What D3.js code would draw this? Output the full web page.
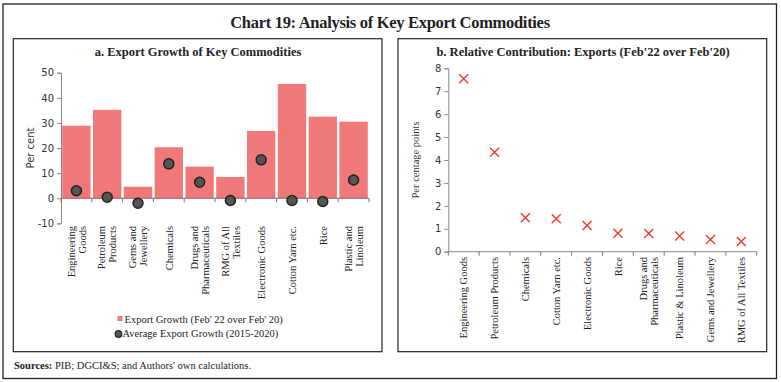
<!DOCTYPE html>
<html><head><meta charset="utf-8">
<script src="https://cdn.jsdelivr.net/npm/d3@7"></script>
<style>body{margin:0;background:#fff}svg{display:block}</style>
</head><body>
<svg id="c" width="781" height="382"></svg>
<script>
// ---- data ----
const catsA = ["Engineering\nGoods","Petroleum\nProducts","Gems and\nJewellery","Chemicals","Drugs and\nPharmaceuticals","RMG of All\nTextiles","Electronic Goods","Cotton Yarn etc.","Rice","Plastic and\nLinoleum"];
const growthFeb = [28.9, 35.2, 4.6, 20.3, 12.6, 8.5, 26.8, 45.5, 32.5, 30.5];
const avgGrowth = [3.0, 0.4, -2.0, 13.7, 6.4, -0.9, 15.3, -0.9, -1.3, 7.3];
const ticksA = [-10, 0, 10, 20, 30, 40, 50];

const catsB = ["Engineering Goods","Petroleum Products","Chemicals","Cotton Yarn etc.","Electronic Goods","Rice","Drugs and\nPharmaceuticals","Plastic & Linoleum","Gems and Jewellery","RMG of All Textiles"];
const contrib = [7.54, 4.34, 1.48, 1.44, 1.14, 0.80, 0.79, 0.68, 0.53, 0.45];
const ticksB = [0, 1, 2, 3, 4, 5, 6, 7, 8];

const svg = d3.select("#c");
const serif = "'Liberation Serif', serif";
const sans = "'DejaVu Sans', sans-serif";

// frames
svg.append("rect").attr("x",3).attr("y",4).attr("width",773.5).attr("height",374.5)
  .attr("fill","none").attr("stroke","#222").attr("stroke-width",1.3);
svg.append("text").attr("x",390).attr("y",28).attr("text-anchor","middle")
  .attr("font-family",serif).attr("font-weight","bold").attr("font-size",16.5).attr("fill","#222")
  .attr("letter-spacing",-0.3)
  .text("Chart 19: Analysis of Key Export Commodities");
svg.append("rect").attr("x",13.3).attr("y",38.7).attr("width",368.7).attr("height",313)
  .attr("fill","none").attr("stroke","#222").attr("stroke-width",1.2);
svg.append("rect").attr("x",398).attr("y",38.7).attr("width",368.7).attr("height",313)
  .attr("fill","none").attr("stroke","#222").attr("stroke-width",1.2);
svg.append("text").attr("x",198).attr("y",56).attr("text-anchor","middle")
  .attr("font-family",serif).attr("font-weight","bold").attr("font-size",12.5).attr("fill","#222")
  .text("a. Export Growth of Key Commodities");
svg.append("text").attr("x",583).attr("y",56).attr("text-anchor","middle")
  .attr("font-family",serif).attr("font-weight","bold").attr("font-size",12.5).attr("fill","#222")
  .text("b. Relative Contribution: Exports (Feb'22 over Feb'20)");

const src = svg.append("text").attr("x",14).attr("y",369).attr("font-family",serif).attr("font-size",10.5).attr("fill","#222");
src.append("tspan").attr("font-weight","bold").text("Sources:");
src.append("tspan").text(" PIB; DGCI&S; and Authors' own calculations.");

function rotLabels(g, cats, x, ytop) {
  cats.forEach((c, i) => {
    const lines = c.split("\n");
    const cx = x(c) + x.bandwidth() / 2;
    const t = g.append("text").attr("transform", `translate(${cx},${ytop}) rotate(-90)`)
      .attr("text-anchor","end").attr("font-family",serif).attr("font-size",10.5).attr("fill","#222");
    lines.forEach((l, j) => {
      t.append("tspan").attr("x",0).attr("y", (j - (lines.length - 1) / 2) * 11 + 3.7).text(l);
    });
  });
}
function boundaryTicks(g, x, cats, y0, len) {
  const xs = cats.map(c => x(c)).concat([x.range()[1]]);
  g.selectAll(null).data(xs).enter().append("line")
    .attr("x1", d => d).attr("x2", d => d).attr("y1", y0).attr("y2", y0 + len)
    .attr("stroke","#777").attr("stroke-width",1);
}
function styleAxis(ax) {
  ax.select(".domain").attr("stroke","#888");
  ax.selectAll(".tick line").attr("stroke","#888");
  ax.selectAll(".tick text").attr("font-family",sans).attr("font-size",10).attr("fill","#333");
}
const fmt = d => String(d);

// ---- panel a ----
{
  const g = svg.append("g");
  const x = d3.scaleBand().domain(catsA).range([61, 369]).paddingInner(0.08).paddingOuter(0.04);
  const y = d3.scaleLinear().domain([-10, 50]).range([223.4, 72.7]);
  g.selectAll(".bar").data(growthFeb).enter().append("rect")
    .attr("x", (d, i) => x(catsA[i])).attr("width", x.bandwidth())
    .attr("y", d => y(Math.max(0, d))).attr("height", d => Math.abs(y(d) - y(0)))
    .attr("fill", "#F07878");
  const ax = g.append("g").attr("transform","translate(61,0)")
    .call(d3.axisLeft(y).tickValues(ticksA).tickFormat(fmt).tickSize(4).tickPadding(3));
  styleAxis(ax);
  const xs = d3.scaleBand().domain(catsA).range([61, 369]);
  g.append("line").attr("x1",61).attr("x2",369).attr("y1",y(0)).attr("y2",y(0)).attr("stroke","#8a6a6a").attr("stroke-width",1);
  boundaryTicks(g, xs, catsA, y(0), 4);
  g.selectAll(".dot").data(avgGrowth).enter().append("circle")
    .attr("cx", (d, i) => xs(catsA[i]) + xs.bandwidth() / 2).attr("cy", d => y(d)).attr("r", 5)
    .attr("fill","#555").attr("stroke","#222").attr("stroke-width",1.5);
  rotLabels(g, catsA, xs, 226);
  g.append("text").attr("transform","translate(34,148) rotate(-90)").attr("text-anchor","middle")
    .attr("font-family",sans).attr("font-size",10).attr("fill","#333").text("Per cent");
  // legend
  g.append("rect").attr("x",117.5).attr("y",316).attr("width",5).attr("height",5).attr("fill","#F07878");
  g.append("text").attr("x",124.5).attr("y",322.5).attr("font-family",serif).attr("font-size",10.5).attr("fill","#222")
    .text("Export Growth (Feb' 22 over Feb' 20)");
  g.append("circle").attr("cx",118.5).attr("cy",334).attr("r",3.3).attr("fill","#555").attr("stroke","#222").attr("stroke-width",1.2);
  g.append("text").attr("x",122.5).attr("y",337).attr("font-family",serif).attr("font-size",10.5).attr("fill","#222")
    .text("Average Export Growth (2015-2020)");
}

// ---- panel b ----
{
  const g = svg.append("g");
  const x = d3.scaleBand().domain(catsB).range([448.3, 756.7]);
  const y = d3.scaleLinear().domain([0, 8]).range([251.7, 68.3]);
  const ax = g.append("g").attr("transform","translate(448.3,0)")
    .call(d3.axisLeft(y).tickValues(ticksB).tickFormat(fmt).tickSize(4).tickPadding(3));
  styleAxis(ax);
  g.append("line").attr("x1",448.3).attr("x2",756.7).attr("y1",y(0)).attr("y2",y(0)).attr("stroke","#888");
  boundaryTicks(g, x, catsB, y(0), 4);
  const s = 4.5;
  const m = g.selectAll(".m").data(contrib).enter().append("g")
    .attr("transform", (d, i) => `translate(${x(catsB[i]) + x.bandwidth() / 2},${y(d)})`);
  m.append("path").attr("d", `M${-s},${-s}L${s},${s}M${-s},${s}L${s},${-s}`)
    .attr("stroke","#EE3B2B").attr("stroke-width",1.4).attr("fill","none");
  rotLabels(g, catsB, x, 257);
  g.append("text").attr("transform","translate(419,160) rotate(-90)").attr("text-anchor","middle")
    .attr("font-family",serif).attr("font-size",10.5).attr("fill","#333").text("Per centage points");
}
</script>
</body></html>
